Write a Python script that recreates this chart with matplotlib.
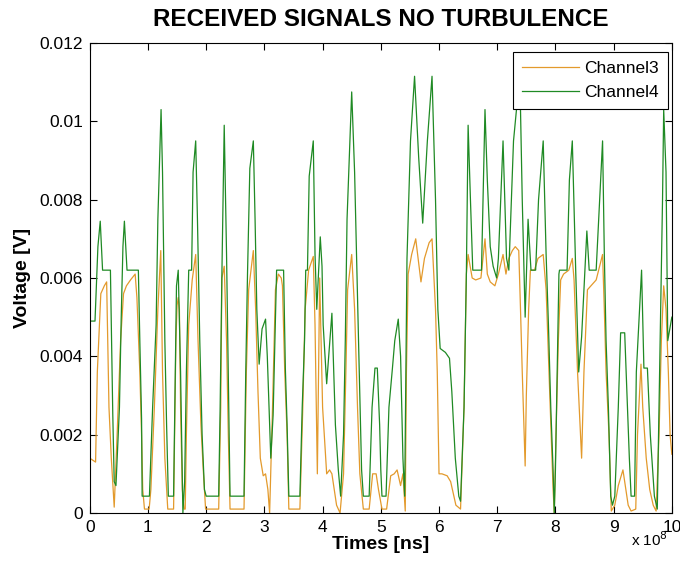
import numpy as np
import matplotlib
matplotlib.use("Agg")
import matplotlib.pyplot as plt

plt.rcParams['font.family'] = ['Liberation Sans', 'DejaVu Sans']

# time in units of 1e8 ns
t3 = [0, 0.10, 0.13, 0.19, 0.25, 0.29, 0.33, 0.37, 0.42, 0.47, 0.53, 0.58, 0.63, 0.70, 0.78,
      0.81, 0.86, 0.89, 0.91, 0.94, 1.02, 1.05, 1.11, 1.17, 1.22, 1.25, 1.29, 1.34, 1.44, 1.48,
      1.50, 1.52, 1.54, 1.56, 1.59, 1.62, 1.64, 1.66, 1.70, 1.76, 1.82, 1.86, 1.91, 1.95, 1.99,
      2.215, 2.25, 2.27, 2.31, 2.35, 2.38, 2.41, 2.65, 2.69, 2.73, 2.81, 2.85, 2.89, 2.93, 2.98,
      3.02, 3.06, 3.09, 3.14, 3.19, 3.24, 3.29, 3.31, 3.35, 3.39, 3.42, 3.61, 3.66, 3.70, 3.76,
      3.84, 3.87, 3.91, 3.95, 4.00, 4.07, 4.12, 4.16, 4.24, 4.30, 4.36, 4.40, 4.43, 4.50, 4.55,
      4.60, 4.64, 4.70, 4.80, 4.86, 4.92, 4.96, 5.02, 5.10, 5.17, 5.23, 5.28, 5.34, 5.38, 5.42,
      5.44, 5.47, 5.53, 5.60, 5.69, 5.75, 5.83, 5.88, 5.94, 5.97, 6.00, 6.05, 6.14, 6.20, 6.29,
      6.37, 6.43, 6.47, 6.50, 6.57, 6.63, 6.72, 6.79, 6.83, 6.88, 6.96, 7.02, 7.10, 7.15, 7.20,
      7.26, 7.31, 7.37, 7.40, 7.43, 7.48, 7.50, 7.54, 7.57, 7.64, 7.70, 7.79, 7.84, 7.89, 7.93,
      7.96, 7.98, 8.01, 8.05, 8.09, 8.14, 8.23, 8.29, 8.32, 8.38, 8.45, 8.49, 8.55, 8.61, 8.70,
      8.81, 8.84, 8.87, 8.92, 8.96, 9.02, 9.08, 9.16, 9.25, 9.30, 9.38, 9.41, 9.47, 9.50, 9.56,
      9.62, 9.68, 9.73, 9.78, 9.82, 9.86, 9.90, 9.94, 9.97, 10.0]
ch3_mv = [1.4, 1.3, 3.6, 5.6, 5.8, 5.9, 2.7, 1.4, 0.15, 2.0, 4.4, 5.6, 5.8, 5.95, 6.1,
          5.5, 3.6, 2.0, 0.6, 0.1, 0.1, 0.6, 2.7, 5.2, 6.7, 3.6, 1.4, 0.1, 0.1, 4.4,
          5.3, 5.5, 5.2, 2.7, 0.6, 0.1, 0.1, 2.0, 4.8, 5.95, 6.6, 4.4, 2.25, 1.1, 0.1,
          0.1, 2.7, 6.0, 6.3, 4.4, 2.0, 0.1, 0.1, 3.6, 5.7, 6.7, 5.2, 3.1, 1.4, 0.95,
          1.0, 0.6, 0.0, 2.7, 5.7, 6.1, 6.0, 5.8, 3.6, 2.0, 0.1, 0.1, 2.7, 5.2, 6.2,
          6.55, 4.8, 1.0, 6.0, 2.7, 1.0, 1.1, 1.0, 0.2, 0.0, 1.0, 3.6, 5.7, 6.6, 5.2,
          2.7, 1.0, 0.1, 0.1, 1.0, 1.0, 0.6, 0.1, 0.1, 0.95, 1.0, 1.1, 0.7, 1.0, 0.05,
          3.6, 6.1, 6.6, 7.0, 5.9, 6.5, 6.9, 7.0, 5.2, 3.6, 1.0, 1.0, 0.95, 0.8, 0.2,
          0.1, 2.7, 6.1, 6.6, 6.0, 5.95, 6.0, 7.0, 6.1, 5.9, 5.8, 6.1, 6.6, 6.1, 6.5,
          6.7, 6.8, 6.7, 5.2, 3.6, 1.2, 3.0, 5.2, 6.2, 6.2, 6.5, 6.6, 5.7, 3.6, 2.0,
          0.6, 0.0, 2.0, 4.4, 5.95, 6.1, 6.2, 6.5, 5.95, 3.6, 1.4, 3.6, 5.7, 5.8, 5.95,
          6.6, 5.2, 3.6, 2.0, 0.05, 0.2, 0.7, 1.1, 0.2, 0.05, 0.1, 2.0, 3.8, 2.7, 1.4,
          0.6, 0.2, 0.05, 2.0, 4.4, 5.8, 5.2, 3.6, 2.0, 1.5]

t4 = [0, 0.09, 0.14, 0.18, 0.22, 0.355, 0.395, 0.42, 0.45, 0.51, 0.54, 0.57, 0.595, 0.64, 0.835,
      0.86, 0.89, 0.90, 1.025, 1.08, 1.14, 1.17, 1.225, 1.25, 1.29, 1.32, 1.35, 1.44, 1.47, 1.49,
      1.52, 1.56, 1.60, 1.63, 1.66, 1.70, 1.75, 1.775, 1.82, 1.85, 1.89, 1.93, 1.97, 2.00, 2.215,
      2.24, 2.27, 2.31, 2.35, 2.38, 2.41, 2.65, 2.68, 2.71, 2.75, 2.81, 2.84, 2.87, 2.91, 2.96,
      3.02, 3.05, 3.08, 3.11, 3.15, 3.21, 3.33, 3.36, 3.39, 3.42, 3.61, 3.65, 3.69, 3.71, 3.74,
      3.77, 3.84, 3.87, 3.90, 3.96, 3.99, 4.01, 4.07, 4.16, 4.22, 4.27, 4.31, 4.36, 4.39, 4.42,
      4.50, 4.55, 4.59, 4.63, 4.67, 4.70, 4.80, 4.85, 4.90, 4.94, 4.98, 5.00, 5.02, 5.09, 5.14,
      5.20, 5.24, 5.30, 5.34, 5.38, 5.41, 5.45, 5.51, 5.58, 5.65, 5.72, 5.80, 5.88, 5.94, 5.98,
      6.02, 6.11, 6.18, 6.22, 6.28, 6.34, 6.37, 6.43, 6.47, 6.50, 6.54, 6.58, 6.73, 6.79, 6.83,
      6.88, 6.93, 6.99, 7.02, 7.10, 7.16, 7.20, 7.28, 7.35, 7.40, 7.43, 7.48, 7.53, 7.58, 7.66,
      7.71, 7.79, 7.84, 7.88, 7.92, 7.96, 7.98, 8.00, 8.03, 8.06, 8.07, 8.20, 8.24, 8.29, 8.35,
      8.40, 8.45, 8.54, 8.58, 8.70, 8.76, 8.81, 8.84, 8.87, 8.91, 8.95, 8.98, 9.02, 9.08, 9.12,
      9.19, 9.27, 9.30, 9.36, 9.39, 9.48, 9.52, 9.58, 9.63, 9.70, 9.75, 9.78, 9.81, 9.84, 9.86,
      9.90, 9.93, 10.0]
ch4_mv = [4.9, 4.9, 6.8, 7.45, 6.2, 6.2, 2.55, 0.8, 0.7, 2.7, 4.95, 6.8, 7.45, 6.2, 6.2,
          4.4, 2.4, 0.43, 0.43, 2.7, 4.8, 7.5, 10.3, 8.7, 4.4, 2.25, 0.43, 0.43, 3.6, 5.8,
          6.2, 3.6, 0.0, 0.8, 3.6, 6.2, 6.2, 8.7, 9.5, 7.5, 4.4, 2.0, 0.6, 0.43, 0.43,
          2.7, 6.1, 9.9, 6.6, 3.6, 0.43, 0.43, 3.6, 6.1, 8.8, 9.5, 7.5, 5.2, 3.8, 4.7,
          4.95, 4.0, 2.7, 1.4, 2.5, 6.2, 6.2, 3.7, 2.25, 0.43, 0.43, 2.7, 4.4, 6.2, 6.2,
          8.6, 9.5, 6.6, 5.2, 7.05, 6.3, 4.8, 3.3, 5.1, 2.25, 1.1, 0.43, 2.0, 4.4, 7.5,
          10.75, 8.7, 6.1, 3.6, 1.1, 0.43, 0.43, 2.7, 3.7, 3.7, 2.25, 1.1, 0.43, 0.43, 2.7,
          3.7, 4.4, 4.95, 4.0, 1.4, 0.43, 6.5, 9.5, 11.15, 9.1, 7.4, 9.5, 11.15, 8.0, 5.2,
          4.2, 4.1, 3.95, 3.1, 1.4, 0.43, 0.3, 2.7, 6.1, 9.9, 8.0, 6.2, 6.2, 10.3, 8.5,
          6.8, 6.3, 6.0, 6.5, 9.5, 6.5, 6.2, 9.5, 10.6, 10.3, 8.0, 5.0, 7.5, 6.2, 6.2,
          8.0, 9.5, 6.6, 4.8, 2.7, 1.1, 0.0, 1.1, 3.6, 6.1, 6.2, 6.2, 8.5, 9.5, 6.1,
          3.6, 4.5, 7.2, 6.2, 6.2, 8.0, 9.5, 6.6, 4.4, 2.7, 0.43, 0.2, 0.43, 2.7, 4.6,
          4.6, 1.4, 0.43, 0.43, 3.6, 6.2, 3.7, 3.7, 2.0, 0.43, 0.1, 2.7, 5.2, 8.0, 10.3,
          8.7, 4.4, 5.0]

ch3 = np.array(ch3_mv) / 1000.0
ch4 = np.array(ch4_mv) / 1000.0

fig = plt.figure(figsize=(6.8, 5.7), dpi=100)
ax = fig.add_axes([0.132, 0.10, 0.856, 0.8246])

ax.plot(t3, ch3, color='#E39A2C', linewidth=0.9, label='Channel3')
ax.plot(t4, ch4, color='#1F8A24', linewidth=0.9, label='Channel4')

ax.set_xlim(0, 10)
ax.set_ylim(0, 0.012)
ax.set_xticks(range(0, 11))
ax.set_yticks([0, 0.002, 0.004, 0.006, 0.008, 0.01, 0.012])
ax.set_yticklabels(['0', '0.002', '0.004', '0.006', '0.008', '0.01', '0.012'])
ax.tick_params(direction='in', top=True, right=True, labelsize=12.5, length=5, width=0.8, pad=5)
for s in ax.spines.values():
    s.set_linewidth(0.8)

ax.set_title('RECEIVED SIGNALS NO TURBULENCE', fontsize=17.5, fontweight='bold', pad=12)
ax.set_xlabel('Times [ns]', fontsize=14, fontweight='bold', labelpad=1)
ax.set_ylabel('Voltage [V]', fontsize=14, fontweight='bold', labelpad=6)
# exponent note, MATLAB style, under the last tick
ax.text(0.993, -0.07, r'x 10$^8$', transform=ax.transAxes, ha='right', va='baseline', fontsize=11)

leg = ax.legend(loc='upper right', bbox_to_anchor=(0.993, 0.981), fontsize=12.5,
                fancybox=False, framealpha=1, edgecolor='black', handlelength=3.3,
                borderaxespad=0, labelspacing=0.55, borderpad=0.5, handletextpad=0.3)
leg.get_frame().set_linewidth(0.8)

fig.savefig('out.png', dpi=100)
